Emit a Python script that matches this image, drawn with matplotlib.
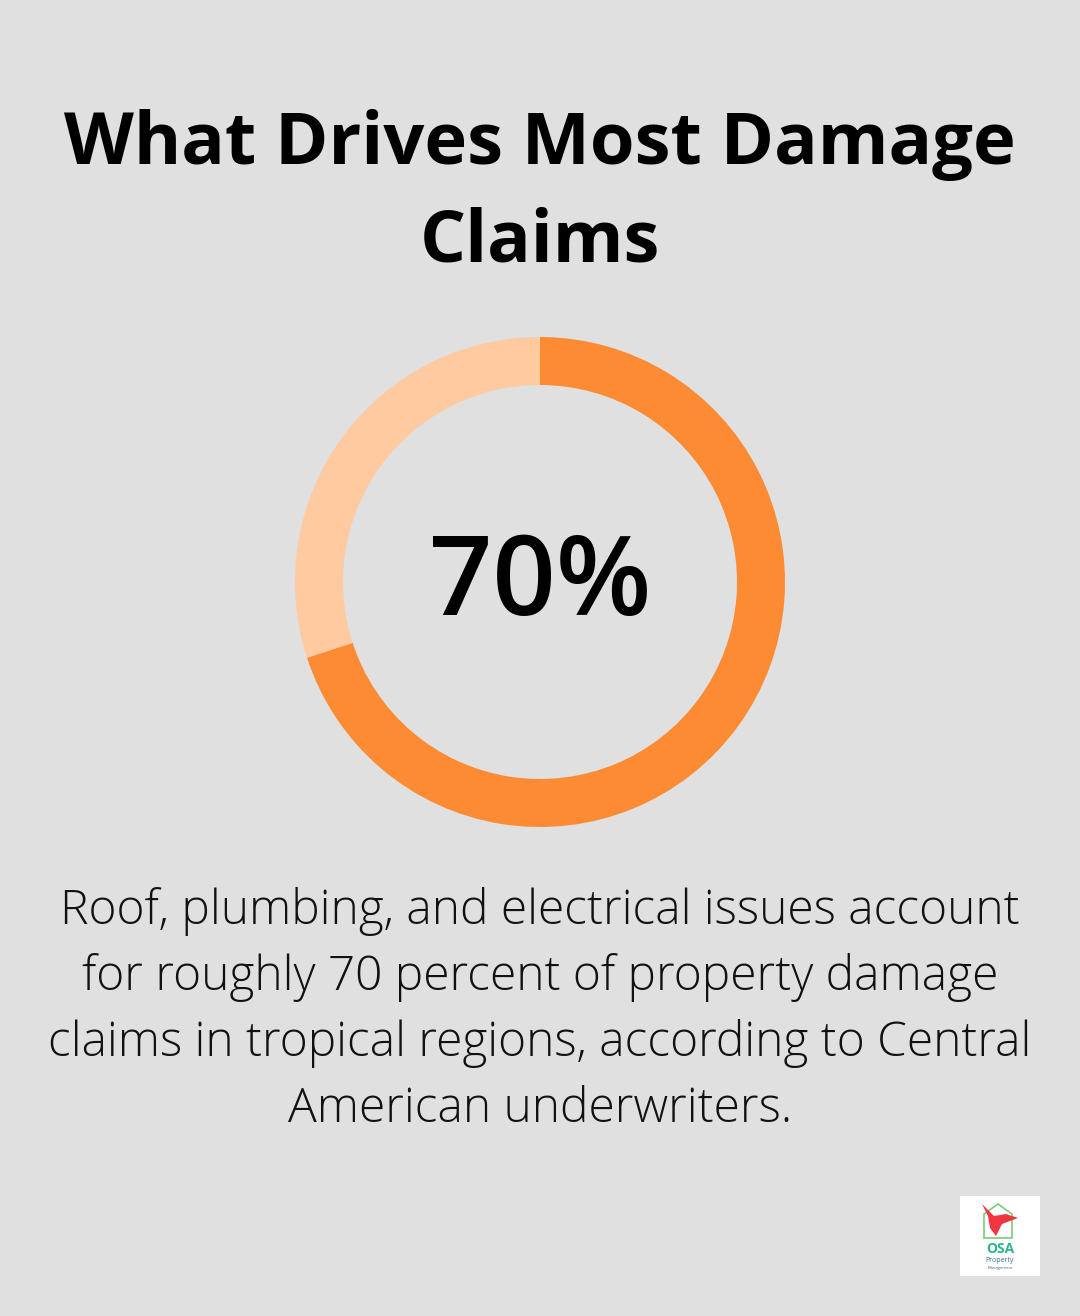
import matplotlib.pyplot as plt
from matplotlib.patches import Rectangle, Polygon

# data
shares = [70, 30]
share_colors = ['#FD8B33', '#FFCA9F']
center_label = '70%'
title_lines = ['What Drives Most Damage', 'Claims']
body_lines = ['Roof, plumbing, and electrical issues account',
              'for roughly 70 percent of property damage',
              'claims in tropical regions, according to Central',
              'American underwriters.']

W, H = 1080, 1316
bg = '#DFE0DF'
fig = plt.figure(figsize=(W / 100, H / 100), dpi=100, facecolor=bg)

def fx(x):
    return x / W

def fy(y):
    return 1 - y / H

# title
fig.text(0.5, fy(145), title_lines[0], ha='center', va='center',
         fontsize=52, fontweight='bold', family='Open Sans', color='#000000')
fig.text(0.5, fy(242), title_lines[1], ha='center', va='center',
         fontsize=52, fontweight='bold', family='Open Sans', color='#000000')

# donut
r = 245
ax = fig.add_axes([fx(540 - r), fy(582 + r), 2 * r / W, 2 * r / H])
ax.pie(shares, colors=share_colors, startangle=90, counterclock=False,
       radius=1, wedgeprops=dict(width=48 / r, linewidth=0))
ax.set_xlim(-1, 1)
ax.set_ylim(-1, 1)
ax.set_aspect('equal')
ax.axis('off')
ax.text(0, -0.02, center_label, ha='center', va='center', fontsize=80,
        fontweight='semibold', family='Open Sans', color='#000000')

# body text
for i, line in enumerate(body_lines):
    fig.text(0.5, fy(912 + 66 * i), line, ha='center', va='center',
             fontsize=34.5, fontweight='light', family='Open Sans', color='#111111')

# logo
lg = fig.add_axes([fx(960), fy(1276), 80 / W, 80 / H])
lg.set_xlim(0, 80)
lg.set_ylim(0, 80)
lg.axis('off')
lg.add_patch(Rectangle((0, 0), 80, 80, facecolor='#FFFFFF', edgecolor='none'))
lg.add_patch(Polygon([(24, 38), (24, 62), (38, 72), (52, 62), (52, 38)],
                     closed=True, fill=False, edgecolor='#7CCB7A', linewidth=1.2))
lg.add_patch(Polygon([(22, 72), (34, 60), (46, 62), (58, 58), (42, 52),
                      (36, 40), (30, 48), (28, 60)],
                     closed=True, facecolor='#F0353F', edgecolor='none'))
lg.text(40, 27, 'OSA', ha='center', va='center', fontsize=10,
        fontweight='bold', family='Open Sans', color='#2FB38A')
lg.text(40, 15, 'Property', ha='center', va='center', fontsize=5,
        family='Open Sans', color='#3A6F8F')
lg.text(40, 8, 'Management', ha='center', va='center', fontsize=3,
        family='Open Sans', color='#3A6F8F')

fig.savefig('out.png', dpi=100, facecolor=bg)
